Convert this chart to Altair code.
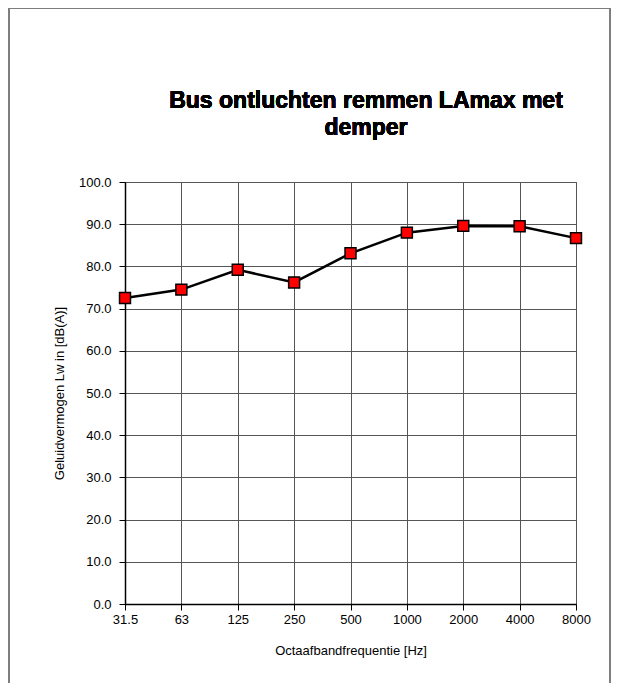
import altair as alt
import pandas as pd

freqs = ["31.5", "63", "125", "250", "500", "1000", "2000", "4000", "8000"]
levels = [72.5, 74.5, 79.2, 76.2, 83.1, 88.0, 89.6, 89.5, 86.7]
title_lines = ["Bus ontluchten remmen LAmax met", "demper"]

df = pd.DataFrame({"freq": freqs, "level": levels})

FONT = "Liberation Sans"
W, H = 451, 422

x_enc = alt.X(
    "freq:N", sort=freqs,
    scale=alt.Scale(type="point", padding=0),
    axis=alt.Axis(
        title="Octaafbandfrequentie [Hz]", labelAngle=0, grid=True,
        gridColor="#555555", gridWidth=1, domainColor="#000000", domainWidth=1.5,
        tickColor="#000000", tickSize=6, labelPadding=3, labelFontSize=13,
        titleFontSize=13, titleFontWeight="normal", titlePadding=18,
        labelColor="#000000", titleColor="#000000", labelFont=FONT, titleFont=FONT,
    ),
)
y_enc = alt.Y(
    "level:Q",
    scale=alt.Scale(domain=[0, 100], nice=False, zero=True),
    axis=alt.Axis(
        title="Geluidvermogen Lw in  [dB(A)]", values=list(range(0, 101, 10)),
        format=".1f", grid=True, gridColor="#555555", gridWidth=1,
        domainColor="#000000", domainWidth=1.5, tickColor="#000000", tickSize=6,
        labelPadding=8, labelFontSize=13, titleFontSize=13, titleFontWeight="normal",
        titlePadding=12, labelColor="#000000", titleColor="#000000",
        labelFont=FONT, titleFont=FONT,
    ),
)

frame = alt.Chart(df).mark_rect(
    filled=False, stroke="#7f7f7f", strokeWidth=1.5, clip=False
).encode(
    x=alt.value(-116), x2=alt.value(W + 34), y=alt.value(-174), y2=alt.value(H + 120)
)

title = alt.Chart(df).mark_text(
    text=title_lines, font=FONT, fontSize=23, fontWeight="bold", color="#000000",
    align="center", baseline="alphabetic", lineHeight=27, clip=False,
).encode(x=alt.value(241), y=alt.value(-74))

line = alt.Chart(df).mark_line(color="#000000", strokeWidth=2.5).encode(x=x_enc, y=y_enc)
points = alt.Chart(df).mark_point(
    shape="square", filled=True, fill="#ff0000", stroke="#000000",
    strokeWidth=1.5, size=120, opacity=1
).encode(x=x_enc, y=y_enc)

chart = alt.layer(line, points, frame, title).properties(
    width=W, height=H,
    autosize=alt.AutoSizeParams(type="none"),
    padding={"left": 117, "top": 174, "right": 35, "bottom": 79},
).configure_view(stroke="#555555", strokeWidth=1)

chart.save("out.html", embed_options={"renderer": "svg", "actions": False})
